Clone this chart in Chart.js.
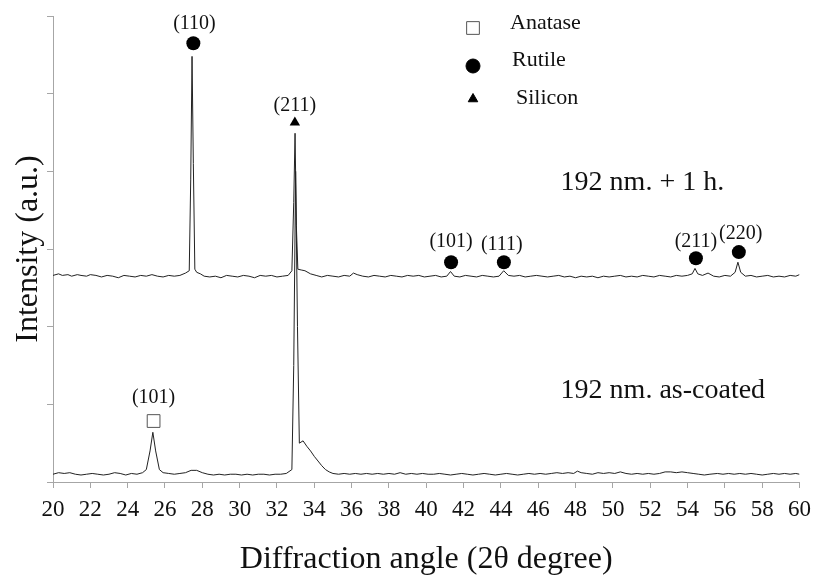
<!DOCTYPE html>
<html>
<head>
<meta charset="utf-8">
<script src="https://cdn.jsdelivr.net/npm/chart.js@4.4.0/dist/chart.umd.min.js"></script>
<style>
  body { margin: 0; background: #fff; }
  #wrap { width: 819px; height: 588px; position: relative; }
</style>
</head>
<body>
<div id="wrap"><canvas id="xrdChart"></canvas></div>
<script>
// Scan after 1 h annealing: [2theta, intensity]
const annealedScan = [
  [20.0,2.66],[20.3,2.68],[20.5,2.66],[20.8,2.67],[21.0,2.65],[21.3,2.67],[21.5,2.66],[21.8,2.65],
  [22.0,2.67],[22.3,2.66],[22.6,2.64],[22.9,2.66],[23.2,2.65],[23.5,2.63],[23.8,2.66],[24.1,2.65],
  [24.4,2.64],[24.7,2.66],[25.0,2.65],[25.3,2.67],[25.6,2.65],[25.9,2.64],[26.2,2.66],[26.5,2.65],
  [26.8,2.66],[27.1,2.69],[27.3,2.72],[27.38,3.9],[27.45,5.48],[27.52,4.1],[27.6,2.74],[27.7,2.70],
  [27.9,2.68],[28.1,2.65],[28.4,2.64],[28.7,2.65],[29.0,2.63],[29.3,2.66],[29.6,2.65],[29.9,2.64],
  [30.2,2.66],[30.5,2.65],[30.8,2.63],[31.1,2.66],[31.4,2.65],[31.7,2.66],[32.0,2.64],[32.3,2.65],
  [32.6,2.66],[32.8,2.72],[32.9,3.6],[32.97,4.49],[33.04,3.3],[33.12,2.74],[33.3,2.73],[33.5,2.72],
  [33.8,2.68],[34.1,2.66],[34.4,2.64],[34.7,2.66],[35.0,2.65],[35.3,2.64],[35.6,2.66],[35.9,2.65],
  [36.1,2.69],[36.3,2.67],[36.6,2.65],[36.9,2.64],[37.2,2.66],[37.5,2.65],[37.8,2.64],[38.1,2.66],
  [38.4,2.65],[38.7,2.64],[39.0,2.66],[39.3,2.65],[39.6,2.66],[39.9,2.64],[40.2,2.65],[40.5,2.66],
  [40.8,2.64],[41.1,2.65],[41.3,2.71],[41.5,2.65],[41.8,2.64],[42.1,2.66],[42.4,2.65],[42.7,2.64],
  [43.0,2.66],[43.3,2.65],[43.6,2.64],[43.9,2.65],[44.15,2.72],[44.4,2.66],[44.7,2.65],[45.0,2.66],
  [45.3,2.64],[45.6,2.65],[45.9,2.66],[46.2,2.65],[46.5,2.64],[46.8,2.65],[47.1,2.66],[47.4,2.64],
  [47.7,2.65],[48.0,2.63],[48.3,2.65],[48.6,2.64],[48.9,2.65],[49.2,2.63],[49.5,2.65],[49.8,2.64],
  [50.1,2.65],[50.4,2.66],[50.7,2.64],[51.0,2.65],[51.3,2.64],[51.6,2.66],[51.9,2.65],[52.2,2.64],
  [52.5,2.66],[52.8,2.65],[53.1,2.64],[53.4,2.66],[53.7,2.65],[54.0,2.66],[54.25,2.68],[54.4,2.75],
  [54.55,2.68],[54.8,2.66],[55.1,2.69],[55.4,2.65],[55.7,2.64],[56.0,2.66],[56.3,2.65],[56.55,2.70],
  [56.7,2.83],[56.85,2.70],[57.1,2.65],[57.4,2.66],[57.7,2.64],[58.0,2.65],[58.3,2.66],[58.6,2.64],
  [58.9,2.65],[59.2,2.64],[59.5,2.66],[59.8,2.65],[60.0,2.67]
];

// As-coated scan: [2theta, intensity]
const coatedScan = [
  [20.0,0.10],[20.3,0.12],[20.6,0.11],[20.9,0.12],[21.2,0.10],[21.5,0.09],[21.8,0.10],[22.1,0.11],
  [22.4,0.10],[22.7,0.09],[23.0,0.10],[23.3,0.12],[23.6,0.11],[23.9,0.09],[24.2,0.11],[24.5,0.10],
  [24.8,0.12],[25.0,0.16],[25.2,0.40],[25.35,0.64],[25.5,0.40],[25.7,0.16],[25.9,0.12],[26.2,0.11],
  [26.5,0.10],[26.8,0.11],[27.1,0.12],[27.4,0.15],[27.7,0.15],[28.0,0.12],[28.3,0.10],[28.6,0.09],
  [28.9,0.10],[29.2,0.09],[29.5,0.10],[29.8,0.10],[30.1,0.09],[30.4,0.10],[30.7,0.09],[31.0,0.10],
  [31.3,0.10],[31.6,0.09],[31.9,0.10],[32.2,0.10],[32.5,0.11],[32.8,0.16],[32.9,1.5],[33.0,4.0],
  [33.1,2.0],[33.2,0.5],[33.4,0.53],[33.6,0.46],[33.8,0.40],[34.0,0.33],[34.2,0.27],[34.4,0.21],
  [34.6,0.16],[34.8,0.13],[35.0,0.11],[35.3,0.10],[35.6,0.11],[35.9,0.10],[36.2,0.11],[36.5,0.10],
  [36.8,0.11],[37.1,0.10],[37.4,0.11],[37.7,0.10],[38.0,0.11],[38.3,0.10],[38.6,0.12],[38.9,0.10],
  [39.2,0.11],[39.5,0.10],[39.8,0.11],[40.1,0.10],[40.4,0.10],[40.7,0.11],[41.0,0.10],[41.3,0.09],
  [41.6,0.10],[41.9,0.11],[42.2,0.10],[42.5,0.09],[42.8,0.10],[43.1,0.11],[43.4,0.10],[43.7,0.09],
  [44.0,0.10],[44.3,0.11],[44.6,0.10],[44.9,0.09],[45.2,0.10],[45.5,0.11],[45.8,0.10],[46.1,0.11],
  [46.4,0.10],[46.7,0.11],[47.0,0.12],[47.3,0.11],[47.6,0.12],[47.9,0.11],[48.1,0.14],[48.3,0.12],
  [48.6,0.11],[48.9,0.10],[49.2,0.12],[49.5,0.11],[49.8,0.12],[50.1,0.11],[50.4,0.13],[50.7,0.11],
  [51.0,0.10],[51.3,0.11],[51.6,0.10],[51.9,0.11],[52.2,0.10],[52.5,0.11],[52.8,0.13],[53.1,0.13],
  [53.4,0.12],[53.7,0.13],[54.0,0.12],[54.3,0.11],[54.6,0.10],[54.9,0.09],[55.2,0.10],[55.6,0.11],
  [55.9,0.10],[56.2,0.11],[56.5,0.10],[56.8,0.11],[57.1,0.10],[57.4,0.11],[57.7,0.10],[58.0,0.09],
  [58.3,0.10],[58.6,0.11],[58.9,0.10],[59.2,0.11],[59.5,0.10],[59.8,0.11],[60.0,0.10]
];

// Phase markers [2theta, height]
const anataseMarks = [[25.39, 0.785]];
const rutileMarks = [[27.52, 5.65], [41.33, 2.83], [44.16, 2.83], [54.45, 2.88], [56.75, 2.96]];
const siliconMarks = [[32.96, 4.63]];

// Miller index labels
const hklText = ['(110)', '(211)', '(101)', '(111)', '(211)', '(220)', '(101)'];
const hklAngle = [27.58, 32.96, 41.33, 44.05, 54.45, 56.85, 25.39];
const hklHeight = [5.9, 4.85, 3.09, 3.06, 3.09, 3.2, 1.08];

// Sample captions
const captionText = ['192 nm. + 1 h.', '192 nm. as-coated'];
const captionAngle = [47.2, 47.2];
const captionHeight = [3.85, 1.18];

const xTicks = { min: 20, max: 60, step: 2 };
const yTicks = { min: 0, max: 6, step: 1 };

const serif = '"Liberation Serif", "Times New Roman", serif';
const axisGrey = '#a6a6a6';

const toPoints = arr => arr.map(p => ({ x: p[0], y: p[1] }));

// draws the hkl labels, captions and the phase legend
const textPlugin = {
  id: 'xrdText',
  afterDatasetsDraw(chart) {
    const { ctx, scales: { x, y }, chartArea } = chart;
    ctx.save();
    ctx.fillStyle = '#111';
    ctx.textAlign = 'center';
    ctx.textBaseline = 'middle';
    ctx.font = '20px ' + serif;
    hklText.forEach((t, i) => {
      ctx.fillText(t, x.getPixelForValue(hklAngle[i]), y.getPixelForValue(hklHeight[i]));
    });

    ctx.textAlign = 'left';
    ctx.font = '28px ' + serif;
    captionText.forEach((t, i) => {
      ctx.fillText(t, x.getPixelForValue(captionAngle[i]), y.getPixelForValue(captionHeight[i]));
    });

    // legend
    const lx = chartArea.left + 420;
    const rows = [
      { label: 'Anatase', style: 'rect', r: 9, fill: '#fff', dy: 12, ty: 7, tx: 37 },
      { label: 'Rutile', style: 'circle', r: 7, fill: '#000', dy: 50, ty: 44, tx: 39 },
      { label: 'Silicon', style: 'triangle', r: 5.5, fill: '#000', dy: 83, ty: 82, tx: 43 }
    ];
    rows.forEach(r => {
      ctx.fillStyle = r.fill;
      ctx.strokeStyle = r.style === 'rect' ? '#555' : '#000';
      ctx.lineWidth = 1;
      Chart.helpers.drawPoint(ctx, { pointStyle: r.style, radius: r.r, rotation: 0, borderWidth: 1 },
        lx, chartArea.top + r.dy);
      ctx.fillStyle = '#111';
      ctx.font = '22px ' + serif;
      ctx.textAlign = 'left';
      ctx.textBaseline = 'middle';
      ctx.fillText(r.label, lx + r.tx, chartArea.top + r.ty);
    });
    ctx.restore();
  }
};

function initChart() {
  const ctx = document.getElementById('xrdChart').getContext('2d');
  new Chart(ctx, {
    type: 'scatter',
    data: {
      datasets: [{
        label: '192 nm. + 1 h.',
        data: toPoints(annealedScan),
        showLine: true,
        borderColor: '#222',
        borderWidth: 1,
        pointRadius: 0,
        tension: 0
      }, {
        label: '192 nm. as-coated',
        data: toPoints(coatedScan),
        showLine: true,
        borderColor: '#222',
        borderWidth: 1,
        pointRadius: 0,
        tension: 0
      }, {
        label: 'Anatase',
        data: toPoints(anataseMarks),
        pointStyle: 'rect',
        pointRadius: 9,
        backgroundColor: '#fff',
        borderColor: '#555',
        borderWidth: 1
      }, {
        label: 'Rutile',
        data: toPoints(rutileMarks),
        pointStyle: 'circle',
        pointRadius: 7,
        backgroundColor: '#000',
        borderColor: '#000',
        borderWidth: 0
      }, {
        label: 'Silicon',
        data: toPoints(siliconMarks),
        pointStyle: 'triangle',
        pointRadius: 6,
        backgroundColor: '#000',
        borderColor: '#000',
        borderWidth: 0
      }]
    },
    options: {
      responsive: true,
      maintainAspectRatio: false,
      animation: false,
      layout: { padding: { top: 16, right: 16, left: 0, bottom: 0 } },
      plugins: {
        legend: { display: false },
        tooltip: { enabled: false }
      },
      scales: {
        x: {
          type: 'linear',
          min: xTicks.min,
          max: xTicks.max,
          afterFit: s => { s.height = 106; },
          border: { color: axisGrey, width: 1 },
          grid: { drawOnChartArea: false, drawTicks: true, tickLength: 6, color: axisGrey },
          ticks: {
            stepSize: xTicks.step,
            autoSkip: false,
            maxRotation: 0,
            padding: 8,
            color: '#111',
            font: { family: serif, size: 23 }
          },
          title: {
            display: true,
            text: 'Diffraction angle (2θ degree)',
            color: '#111',
            font: { family: serif, size: 32 },
            padding: { top: 0, bottom: 9 }
          }
        },
        y: {
          min: yTicks.min,
          max: yTicks.max,
          afterFit: s => { s.width = 53; },
          border: { color: axisGrey, width: 1 },
          grid: { drawOnChartArea: false, drawTicks: true, tickLength: 6, color: axisGrey },
          ticks: {
            stepSize: yTicks.step,
            callback: () => '',
            padding: 0
          },
          title: {
            display: true,
            text: 'Intensity (a.u.)',
            color: '#111',
            font: { family: serif, size: 32 },
            padding: { top: 9, bottom: 0 }
          }
        }
      }
    },
    plugins: [textPlugin]
  });
}

document.addEventListener('DOMContentLoaded', initChart);
</script>
</body>
</html>
